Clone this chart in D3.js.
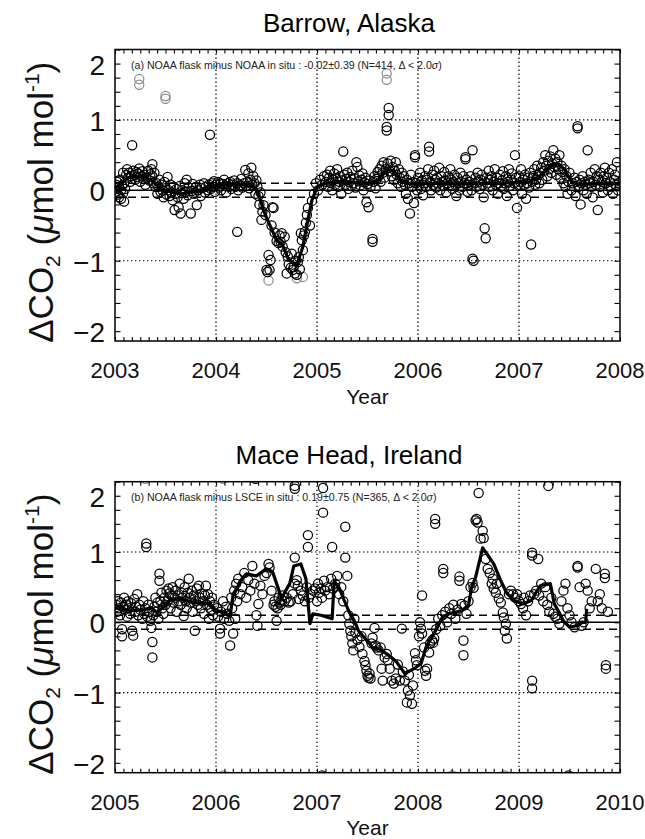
<!DOCTYPE html>
<html>
<head>
<meta charset="utf-8">
<script src="https://cdn.jsdelivr.net/npm/d3@7"></script>
<style>
  body { margin: 0; background: #fff; }
  svg { display: block; }
  text { font-family: "Liberation Sans", Arial, Helvetica, sans-serif; }
</style>
</head>
<body>
<svg id="chart" width="645" height="839"></svg>
<script>
// ---- Data -------------------------------------------------------------
const yTicks = [-2, -1, 0, 1, 2];
const barrowYears = [2003, 2004, 2005, 2006, 2007, 2008];
const maceYears = [2005, 2006, 2007, 2008, 2009, 2010];

const barrowTitle = "Barrow, Alaska";
const maceTitle = "Mace Head, Ireland";
const barrowNote = ["(a) NOAA flask minus NOAA in situ : -0.02\u00b10.39 (N=414, \u0394 < 2.0", "\u03c3", ")"];
const maceNote = ["(b) NOAA flask minus LSCE in situ : 0.19\u00b10.75 (N=365, \u0394 < 2.0", "\u03c3", ")"];

// flask minus in situ differences [decimal year, ppm], accepted samples
const barrowFlask = [
  [2003.01,0.08],[2003.01,-0.02],[2003.02,0.12],[2003.02,0.03],[2003.03,-0.06],[2003.04,0.05],[2003.04,-0.1],[2003.05,0.15],[2003.06,0.0],[2003.06,-0.12],[2003.07,0.07],[2003.08,-0.04],[2003.08,0.25],[2003.09,0.1],[2003.09,-0.16],[2003.10,0.02],
  [2003.11,0.22],[2003.12,0.3],[2003.13,0.18],[2003.14,0.25],[2003.15,0.12],[2003.16,0.2],[2003.17,0.64],[2003.18,0.28],[2003.19,0.22],[2003.20,0.15],[2003.21,0.26],[2003.22,0.19],[2003.23,0.24],[2003.24,0.31],[2003.25,0.12],[2003.26,0.2],[2003.27,0.27],[2003.28,0.16],[2003.29,0.22],[2003.30,0.08],[2003.31,0.18],[2003.33,0.28],[2003.34,0.14],[2003.35,0.23],[2003.36,0.3],[2003.37,0.37],[2003.37,0.2],[2003.38,0.1],[2003.39,0.25],[2003.40,0.05],
  [2003.41,0.1],[2003.42,-0.05],[2003.43,0.05],[2003.44,0.15],[2003.45,-0.02],[2003.46,0.08],[2003.47,0.0],[2003.48,-0.1],[2003.49,0.12],[2003.50,0.03],[2003.51,-0.06],[2003.52,0.19],[2003.53,0.0],[2003.54,-0.08],[2003.55,0.08],[2003.56,-0.03],[2003.57,-0.14],[2003.58,0.05],[2003.59,-0.28],[2003.60,-0.05],[2003.61,0.02],[2003.62,-0.1],[2003.63,-0.24],[2003.64,0.06],[2003.65,-0.33],[2003.66,-0.04],[2003.67,0.0],[2003.68,-0.12],[2003.69,0.1],[2003.70,-0.02],[2003.71,0.15],[2003.72,-0.07],[2003.73,0.04],[2003.75,-0.33],[2003.76,-0.01],[2003.77,0.09],[2003.78,-0.05],[2003.80,0.05],[2003.81,-0.21],[2003.82,0.0],[2003.84,0.08],[2003.85,-0.08],[2003.86,0.03],[2003.88,0.1],[2003.89,-0.03],[2003.90,0.05],[2003.92,0.0],
  [2003.93,0.08],[2003.94,0.79],[2003.95,0.02],[2003.96,0.1],[2003.97,0.05],[2003.98,0.13],[2003.99,-0.02],[2004.00,0.08],[2004.02,0.12],[2004.03,0.04],[2004.04,0.1],[2004.05,0.0],[2004.07,0.09],[2004.08,0.15],[2004.09,0.06],[2004.10,-0.03],[2004.12,0.1],[2004.13,0.05],[2004.14,0.12],[2004.15,0.02],[2004.17,0.08],[2004.18,0.14],[2004.19,0.05],[2004.21,-0.59],[2004.21,0.1],[2004.22,0.0],[2004.24,0.07],[2004.25,0.16],[2004.26,0.04],[2004.28,0.1],[2004.29,0.29],[2004.30,0.06],[2004.31,0.12],[2004.32,0.24],[2004.33,0.03],[2004.34,0.15],[2004.35,0.32],[2004.36,0.08],[2004.37,0.2],[2004.38,0.1],[2004.39,-0.05],[2004.40,0.14],
  [2004.41,0.05],[2004.42,-0.08],[2004.43,-0.2],[2004.44,-0.03],[2004.45,-0.42],[2004.46,-0.3],[2004.47,-0.21],[2004.49,-0.35],[2004.50,-1.13],[2004.51,-1.16],[2004.52,-0.92],[2004.53,-1.13],[2004.54,-0.99],[2004.55,-0.5],[2004.56,-0.24],[2004.57,-0.25],[2004.58,-0.6],[2004.60,-0.72],[2004.62,-0.75],[2004.63,-0.64],[2004.64,-0.73],[2004.65,-0.61],[2004.66,-0.8],[2004.68,-0.66],[2004.69,-0.88],[2004.70,-1.18],[2004.71,-0.94],[2004.72,-1.05],[2004.74,-1.1],[2004.75,-0.9],[2004.76,-1.13],[2004.77,-1.09],[2004.78,-1.18],[2004.79,-1.0],[2004.80,-1.2],[2004.81,-1.02],[2004.82,-0.95],[2004.83,-1.12],[2004.84,-0.61],[2004.85,-0.71],[2004.86,-0.85],[2004.87,-0.64],[2004.88,-0.59],[2004.89,-0.46],[2004.90,-0.35],[2004.91,-0.25],[2004.93,-0.5],[2004.95,-0.15],[2004.97,-0.05],[2004.99,0.1],[2005.01,0.0],[2005.03,0.15],[2005.05,0.08],[2005.07,0.2],
  [2005.09,0.12],[2005.10,0.22],[2005.11,0.05],[2005.12,0.18],[2005.13,0.28],[2005.14,0.1],[2005.15,0.0],[2005.16,0.15],[2005.17,0.24],[2005.18,0.08],[2005.19,0.17],[2005.20,0.3],[2005.21,0.05],[2005.22,0.12],[2005.23,0.2],[2005.24,-0.05],[2005.25,0.14],[2005.26,0.55],[2005.27,0.22],[2005.28,0.08],[2005.29,0.16],[2005.30,0.25],[2005.31,0.02],[2005.32,0.12],[2005.33,0.19],[2005.34,0.06],[2005.35,0.28],[2005.36,0.1],[2005.37,0.17],[2005.38,0.04],[2005.39,0.4],[2005.40,0.33],[2005.41,0.13],[2005.42,0.21],[2005.43,0.07],[2005.44,0.15],[2005.45,0.24],[2005.46,0.0],[2005.47,0.11],[2005.48,0.18],[2005.49,-0.17],[2005.50,0.09],[2005.51,-0.24],[2005.52,0.14],[2005.53,0.05],[2005.55,-0.69],[2005.55,-0.73],[2005.56,0.12],[2005.57,0.2],[2005.58,0.03],[2005.59,0.16],[2005.60,0.26],
  [2005.61,0.2],[2005.62,0.3],[2005.63,0.12],[2005.64,0.35],[2005.65,0.25],[2005.66,0.4],[2005.67,0.18],[2005.68,0.3],[2005.69,0.9],[2005.69,0.85],[2005.70,0.38],[2005.71,1.17],[2005.71,1.07],[2005.72,0.27],[2005.73,0.42],[2005.74,0.2],[2005.75,0.33],[2005.76,0.15],[2005.77,0.28],[2005.78,0.4],[2005.79,0.22],[2005.80,0.1],[2005.81,0.3],[2005.82,0.18],[2005.83,0.05],[2005.84,0.25],[2005.85,0.12],
  [2005.86,0.2],[2005.87,0.08],[2005.88,-0.05],[2005.89,0.15],[2005.90,-0.12],[2005.91,0.1],[2005.92,-0.33],[2005.93,0.22],[2005.94,0.05],[2005.95,0.12],[2005.96,-0.18],[2005.97,0.5],[2005.97,0.47],[2005.98,0.1],[2005.99,0.0],[2006.00,0.18],[2006.01,0.08],[2006.02,0.25],[2006.03,0.02],[2006.04,0.14],[2006.05,-0.07],[2006.06,0.1],[2006.07,0.2],[2006.08,0.05],[2006.09,0.15],[2006.10,0.3],[2006.11,0.62],[2006.11,0.55],[2006.12,0.12],[2006.13,0.0],[2006.14,0.22],[2006.15,0.08],[2006.16,0.28],[2006.17,0.15],[2006.18,0.04],[2006.19,0.18],[2006.20,0.1],[2006.21,0.32],[2006.22,0.0],[2006.23,0.2],[2006.24,0.12],[2006.25,0.06],[2006.26,0.26],[2006.27,0.14],[2006.28,-0.03],[2006.29,0.1],[2006.30,0.2],[2006.31,0.07],[2006.32,0.3],[2006.33,0.15],[2006.34,0.02],[2006.35,0.12],[2006.36,0.22],[2006.37,0.08],[2006.38,-0.08],[2006.39,0.18],[2006.40,0.1],[2006.41,0.0],[2006.42,0.25],[2006.43,0.12],[2006.44,0.05],[2006.45,0.2],[2006.46,0.1],[2006.47,0.47],[2006.47,0.44],[2006.48,0.15],[2006.49,-0.02],[2006.50,0.08],
  [2006.51,0.12],[2006.52,0.2],[2006.53,0.0],[2006.54,0.57],[2006.54,-0.97],[2006.55,-1.0],[2006.56,0.1],[2006.57,0.18],[2006.58,0.05],[2006.59,0.25],[2006.60,0.12],[2006.61,0.02],[2006.62,0.15],[2006.63,0.22],[2006.64,0.08],[2006.65,-0.1],[2006.66,-0.54],[2006.67,-0.68],[2006.68,0.18],[2006.69,0.1],[2006.70,0.28],[2006.71,0.05],[2006.72,0.15],[2006.73,0.2],[2006.74,0.0],[2006.75,0.12],[2006.76,0.3],[2006.77,0.08],[2006.78,0.18],[2006.79,-0.05],[2006.80,0.1],[2006.81,0.22],[2006.82,0.05],[2006.83,0.14],[2006.84,0.27],[2006.85,0.02],[2006.86,0.1],[2006.87,0.2],[2006.88,-0.08],[2006.89,0.12],[2006.90,0.3],[2006.91,0.06],[2006.92,0.15],[2006.93,0.24],[2006.94,0.0],[2006.95,0.1],[2006.96,0.5],[2006.97,0.18],[2006.98,-0.25],[2006.99,0.08],[2007.00,0.2],[2007.01,0.12],[2007.02,0.3],[2007.03,-0.05],[2007.04,0.15],[2007.05,0.08],[2007.06,0.22],[2007.07,-0.12],[2007.08,0.1],[2007.09,0.18],[2007.10,0.04],[2007.11,0.25],[2007.12,-0.77],[2007.13,0.12],[2007.14,0.2],[2007.15,0.3],[2007.16,0.08],[2007.17,0.15],[2007.18,0.35],[2007.19,0.22],[2007.20,0.1],
  [2007.21,0.25],[2007.22,0.32],[2007.23,0.15],[2007.24,0.4],[2007.25,0.28],[2007.26,0.5],[2007.27,0.35],[2007.28,0.2],[2007.29,0.42],[2007.30,0.3],[2007.31,0.48],[2007.32,0.25],[2007.33,0.38],[2007.34,0.57],[2007.35,0.33],[2007.36,0.45],[2007.37,0.22],[2007.38,0.4],[2007.39,0.3],[2007.40,0.5],[2007.41,0.18],[2007.42,0.35],[2007.43,0.26],[2007.44,0.1],[2007.45,0.3],[2007.46,0.05],[2007.47,0.2],[2007.48,-0.05],[2007.49,0.12],[2007.50,0.25],[2007.52,0.0],[2007.53,0.1],
  [2007.55,0.18],[2007.56,-0.08],[2007.57,0.12],[2007.58,0.91],[2007.58,0.88],[2007.59,0.05],[2007.60,0.15],[2007.61,-0.2],[2007.62,0.1],[2007.63,0.2],[2007.64,0.0],[2007.65,0.12],[2007.66,0.08],[2007.67,-0.05],[2007.68,0.57],[2007.69,0.15],[2007.70,0.1],[2007.71,0.25],[2007.72,0.05],[2007.73,-0.1],[2007.74,0.12],[2007.75,0.3],[2007.76,0.08],[2007.77,0.2],[2007.78,-0.28],[2007.79,0.15],[2007.80,0.05],[2007.81,0.25],[2007.82,0.12],[2007.83,-0.03],[2007.84,0.2],[2007.85,0.32],[2007.86,0.1],[2007.87,0.18],[2007.88,0.0],[2007.89,0.25],[2007.90,0.12],[2007.91,0.05],[2007.92,0.3],[2007.93,-0.05],[2007.94,0.15],[2007.95,0.22],[2007.96,0.08],[2007.97,0.4],[2007.98,0.0],[2007.99,0.1]
];
// samples outside the 2-sigma acceptance window
const barrowRejected = [
  [2003.24,1.58],[2003.24,1.50],[2003.50,1.34],[2003.50,1.30],[2005.69,1.66],[2005.69,1.57],[2004.52,-1.28],[2004.80,-1.25],[2004.86,-1.23]
];
// running mean of the accepted differences
const barrowMean = [
  [2003.0,0.05],[2003.05,0.06],[2003.1,0.15],[2003.15,0.19],[2003.3,0.19],[2003.38,0.12],[2003.45,0.02],[2003.55,-0.02],[2003.65,-0.05],[2003.75,-0.03],[2003.85,0.0],[2003.95,0.05],[2004.1,0.08],[2004.25,0.08],[2004.38,0.05],[2004.42,-0.05],[2004.47,-0.28],[2004.52,-0.45],[2004.6,-0.71],[2004.66,-0.78],[2004.72,-0.99],[2004.8,-1.06],[2004.86,-0.8],[2004.91,-0.42],[2004.95,-0.14],[2005.0,0.04],[2005.08,0.1],[2005.3,0.12],[2005.5,0.1],[2005.6,0.13],[2005.65,0.22],[2005.7,0.29],[2005.76,0.28],[2005.82,0.15],[2005.9,0.1],[2006.2,0.1],[2006.5,0.1],[2006.8,0.1],[2007.1,0.12],[2007.2,0.2],[2007.3,0.33],[2007.38,0.39],[2007.45,0.3],[2007.52,0.12],[2007.6,0.08],[2007.8,0.1],[2008.0,0.1]
];

const maceFlask = [
  [2005.01,0.25],[2005.02,0.15],[2005.03,0.3],[2005.04,0.2],[2005.05,0.1],[2005.06,0.28],[2005.07,-0.1],[2005.07,-0.2],[2005.08,0.22],[2005.09,0.35],[2005.10,0.18],[2005.11,0.25],[2005.12,0.08],[2005.13,0.3],[2005.14,0.2],[2005.15,0.12],[2005.16,0.27],[2005.17,-0.12],[2005.18,-0.19],[2005.19,0.33],[2005.20,0.15],[2005.21,0.22],[2005.22,0.4],[2005.23,0.1],[2005.24,0.25],[2005.25,0.18],[2005.27,0.05],[2005.28,0.3],[2005.29,0.12],[2005.30,0.2],[2005.31,1.12],[2005.31,1.07],[2005.32,0.08],[2005.33,0.25],[2005.34,0.15],[2005.35,0.02],[2005.36,-0.08],[2005.37,-0.28],[2005.37,-0.5],[2005.38,0.1],[2005.39,0.22],[2005.40,0.35],[2005.41,0.15],[2005.42,0.28],[2005.43,0.05],[2005.44,0.69],[2005.44,0.59],[2005.45,0.3],[2005.46,0.42],[2005.47,0.2],[2005.48,0.12],[2005.49,0.35],[2005.50,0.25],
  [2005.51,0.45],[2005.52,0.3],[2005.53,0.48],[2005.54,0.41],[2005.55,0.2],[2005.56,0.38],[2005.57,0.5],[2005.58,0.28],[2005.59,0.35],[2005.60,0.45],[2005.61,0.15],[2005.62,0.38],[2005.63,0.3],[2005.64,0.55],[2005.65,0.25],[2005.66,0.42],[2005.67,0.35],[2005.68,0.09],[2005.69,0.5],[2005.70,0.3],[2005.71,0.2],[2005.72,0.42],[2005.73,0.62],[2005.74,0.35],[2005.75,0.28],[2005.76,0.45],[2005.77,0.15],[2005.78,0.38],[2005.79,-0.12],[2005.80,0.3],[2005.81,0.48],[2005.82,0.25],[2005.83,0.52],[2005.84,0.35],[2005.85,0.2],[2005.86,0.41],[2005.87,0.3],[2005.88,0.12],[2005.89,0.38],[2005.90,0.52],[2005.91,0.25],[2005.92,0.4],[2005.93,0.05],[2005.94,0.3],[2005.95,0.18],[2005.96,0.35],[2005.97,0.1],[2005.98,0.25],
  [2006.01,0.2],[2006.02,0.08],[2006.04,-0.09],[2006.04,-0.16],[2006.05,0.15],[2006.07,0.3],[2006.08,0.05],[2006.10,0.22],[2006.11,0.12],[2006.13,0.02],[2006.14,-0.33],[2006.15,0.35],[2006.16,0.2],[2006.17,-0.16],[2006.18,0.45],[2006.19,0.05],[2006.20,0.55],[2006.21,0.3],[2006.22,0.62],[2006.24,0.4],
  [2006.26,0.5],[2006.28,0.7],[2006.30,0.35],[2006.32,0.6],[2006.34,0.45],[2006.36,0.8],[2006.38,0.55],[2006.40,0.1],[2006.41,-0.05],[2006.42,0.26],[2006.44,0.52],[2006.46,0.4],[2006.48,0.66],[2006.50,0.7],[2006.52,0.83],[2006.53,0.78],[2006.55,0.45],[2006.57,0.25],[2006.58,0.3],[2006.59,0.22],[2006.60,0.02],[2006.61,0.2],[2006.62,0.35],[2006.63,0.28],[2006.64,0.25],[2006.65,0.32],[2006.66,0.38],[2006.68,0.3],[2006.70,0.35],[2006.72,0.28],[2006.74,0.3],[2006.76,0.4],[2006.78,0.92],[2006.78,0.55],[2006.78,1.94],[2006.78,1.9],[2006.80,0.6],[2006.81,0.52],[2006.82,0.33],[2006.84,0.45],[2006.86,0.38],[2006.88,0.3],[2006.90,0.5],[2006.91,1.24],[2006.91,1.07],[2006.92,0.35],[2006.94,0.4],
  [2006.96,0.45],[2006.98,0.48],[2007.00,0.3],[2007.01,0.55],[2007.02,0.42],[2007.04,0.48],[2007.05,0.35],[2007.06,1.91],[2007.06,1.56],[2007.07,0.59],[2007.08,0.45],[2007.10,0.5],[2007.12,0.4],[2007.14,0.62],[2007.15,1.07],[2007.16,0.48],[2007.18,0.55],[2007.20,0.66],[2007.22,0.4],[2007.24,0.5],[2007.26,0.3],[2007.28,0.92],[2007.28,1.36],[2007.30,0.66],
  [2007.31,0.1],[2007.32,-0.02],[2007.33,-0.12],[2007.34,-0.2],[2007.35,-0.3],[2007.36,-0.4],[2007.37,0.05],[2007.38,-0.15],[2007.40,-0.25],[2007.42,-0.35],[2007.44,-0.2],[2007.45,-0.45],[2007.47,-0.55],[2007.48,-0.61],[2007.49,-0.69],[2007.50,-0.76],[2007.51,-0.79],[2007.52,-0.73],[2007.53,-0.8],[2007.54,-0.3],[2007.55,-0.22],[2007.57,-0.08],[2007.58,-0.33],[2007.59,-0.36],[2007.61,-0.4],[2007.63,-0.36],[2007.64,-0.66],[2007.65,-0.83],[2007.67,-0.5],[2007.69,-0.45],[2007.70,-0.54],[2007.72,-0.66],[2007.74,-0.83],[2007.76,-0.87],[2007.78,-0.8],[2007.80,-0.6],[2007.82,-0.83],[2007.84,-0.09],[2007.85,-0.7],[2007.87,-0.83],[2007.89,-1.14],[2007.90,-0.97],[2007.91,-0.75],[2007.92,-1.04],[2007.94,-1.16],[2007.95,-0.9],[2007.97,-0.44],[2007.98,-0.54],[2007.99,-0.61],
  [2008.01,-0.2],[2008.02,0.0],[2008.03,-0.09],[2008.04,0.38],[2008.04,-0.16],[2008.06,-0.36],[2008.07,-0.69],[2008.08,-0.76],[2008.09,-0.66],[2008.11,-0.43],[2008.12,-0.3],[2008.14,-0.26],[2008.15,-0.29],[2008.16,-0.23],[2008.17,1.47],[2008.17,1.4],[2008.18,-0.1],[2008.20,0.05],[2008.22,-0.05],[2008.24,0.1],[2008.25,0.76],[2008.25,0.7],[2008.27,0.15],[2008.29,0.0],[2008.31,0.2],[2008.33,0.12],[2008.35,0.25],[2008.37,0.05],[2008.39,0.18],[2008.41,0.65],[2008.41,0.59],[2008.43,0.26],[2008.45,-0.26],[2008.45,-0.47],[2008.46,0.24],[2008.48,0.12],[2008.50,0.3],
  [2008.52,0.5],[2008.54,0.56],[2008.55,0.49],[2008.57,1.45],[2008.58,1.47],[2008.59,1.42],[2008.60,1.84],[2008.62,1.19],[2008.64,1.3],[2008.65,1.2],[2008.67,0.9],[2008.69,0.76],[2008.71,0.7],[2008.73,0.55],[2008.74,0.62],[2008.75,0.48],[2008.77,0.42],[2008.78,0.55],[2008.80,0.34],[2008.82,0.28],[2008.84,0.14],[2008.85,0.07],[2008.86,-0.12],[2008.87,-0.02],[2008.88,-0.23],[2008.90,0.4],[2008.92,0.45],[2008.94,0.4],[2008.96,0.35],[2008.98,0.4],
  [2009.00,0.3],[2009.02,0.26],[2009.04,0.2],[2009.05,0.35],[2009.07,0.1],[2009.09,0.3],[2009.11,0.38],[2009.13,0.99],[2009.13,0.95],[2009.13,-0.83],[2009.13,-0.94],[2009.15,0.4],[2009.17,0.45],[2009.19,0.9],[2009.20,0.38],[2009.22,0.55],[2009.24,0.3],[2009.26,0.5],[2009.28,0.25],[2009.29,1.94],[2009.30,0.15],[2009.32,0.35],[2009.34,0.12],[2009.36,0.08],[2009.38,0.05],[2009.40,-0.02],[2009.42,0.3],[2009.44,0.45],[2009.46,0.55],[2009.48,0.2],[2009.50,0.1],[2009.52,0.0],[2009.55,-0.07],[2009.58,0.8],[2009.58,0.78],[2009.60,0.5],[2009.62,-0.05],[2009.64,0.0],[2009.66,0.55],[2009.68,0.45],[2009.70,0.2],[2009.72,0.3],[2009.76,0.76],[2009.78,0.3],[2009.80,0.4],[2009.82,0.2],[2009.85,0.69],[2009.85,0.63],[2009.86,-0.61],[2009.86,-0.66],[2009.88,0.15],
  [2006.39,2.04],[2007.05,-2.18],[2009.49,-2.18]
];
const maceRejected = [
  [2005.30,2.04],[2006.07,2.04],[2006.07,-2.18],[2008.34,-2.18],[2008.86,-2.18]
];
const maceMean = [
  [2005.0,0.21],[2005.15,0.17],[2005.27,0.17],[2005.36,0.21],[2005.41,0.14],[2005.5,0.24],[2005.54,0.31],[2005.64,0.34],[2005.77,0.28],[2005.94,0.27],[2005.99,0.17],[2006.09,0.14],[2006.14,0.09],[2006.17,0.4],[2006.21,0.49],[2006.24,0.59],[2006.3,0.69],[2006.4,0.66],[2006.5,0.76],[2006.56,0.72],[2006.6,0.55],[2006.65,0.34],[2006.69,0.45],[2006.73,0.55],[2006.77,0.8],[2006.84,0.83],[2006.89,0.62],[2006.93,-0.02],[2006.96,0.12],[2007.04,0.1],[2007.15,0.05],[2007.17,0.59],[2007.22,0.49],[2007.27,0.31],[2007.32,0.14],[2007.37,0.02],[2007.41,-0.12],[2007.47,-0.22],[2007.55,-0.36],[2007.62,-0.38],[2007.7,-0.46],[2007.78,-0.55],[2007.87,-0.73],[2007.96,-0.66],[2008.03,-0.59],[2008.08,-0.35],[2008.13,-0.23],[2008.19,-0.08],[2008.24,0.07],[2008.3,0.12],[2008.36,0.14],[2008.44,0.17],[2008.5,0.24],[2008.53,0.49],[2008.57,0.64],[2008.64,1.06],[2008.75,0.83],[2008.82,0.59],[2008.88,0.41],[2008.95,0.31],[2009.04,0.26],[2009.12,0.31],[2009.21,0.52],[2009.31,0.55],[2009.35,0.26],[2009.39,0.16],[2009.44,0.02],[2009.5,-0.07],[2009.57,-0.05],[2009.63,0.0],[2009.66,0.0],[2009.67,0.19]
];

// ---- Drawing ----------------------------------------------------------
const svg = d3.select("#chart");
const plotLeft = 115, plotRight = 620;
const yDomain = [-2.14, 2.0];

function drawPanel(cfg, idx) {
  const x = d3.scaleLinear().domain([cfg.years[0], cfg.years[cfg.years.length - 1]]).range([plotLeft, plotRight]);
  const y = d3.scaleLinear().domain(yDomain).range([cfg.bottom, cfg.top]);
  const g = svg.append("g");

  const clipId = "clip" + idx;
  svg.append("clipPath").attr("id", clipId)
    .append("rect").attr("x", plotLeft).attr("y", cfg.top)
    .attr("width", plotRight - plotLeft).attr("height", cfg.bottom - cfg.top);

  // dotted grid at whole years and whole ppm
  const grid = g.append("g").attr("stroke", "#000").attr("stroke-width", 1.2).attr("stroke-dasharray", "1.4,2.6");
  grid.selectAll("line.gx").data(cfg.years.slice(1, -1)).join("line")
    .attr("x1", d => x(d)).attr("x2", d => x(d)).attr("y1", cfg.top).attr("y2", cfg.bottom);
  grid.selectAll("line.gy").data(yTicks.filter(v => v !== 0 && Math.abs(v) < 2)).join("line")
    .attr("x1", plotLeft).attr("x2", plotRight).attr("y1", d => y(d)).attr("y2", d => y(d));

  // zero line and +/-0.1 ppm band
  g.append("line").attr("x1", plotLeft).attr("x2", plotRight).attr("y1", y(0)).attr("y2", y(0))
    .attr("stroke", "#000").attr("stroke-width", 1.5);
  g.selectAll("line.band").data([0.1, -0.1]).join("line")
    .attr("x1", plotLeft).attr("x2", plotRight).attr("y1", d => y(d)).attr("y2", d => y(d))
    .attr("stroke", "#000").attr("stroke-width", 1.5).attr("stroke-dasharray", "8,5");

  const marks = g.append("g").attr("clip-path", `url(#${clipId})`);
  marks.selectAll("circle.rej").data(cfg.rejected).join("circle")
    .attr("cx", d => x(d[0])).attr("cy", d => y(d[1])).attr("r", 4.6)
    .attr("fill", "none").attr("stroke", "#8a8a8a").attr("stroke-width", 1.2);
  marks.selectAll("circle.acc").data(cfg.flask).join("circle")
    .attr("cx", d => x(d[0])).attr("cy", d => y(d[1])).attr("r", 4.6)
    .attr("fill", "none").attr("stroke", "#000").attr("stroke-width", 1.25);
  marks.append("path").datum(cfg.mean)
    .attr("d", d3.line().x(d => x(d[0])).y(d => y(d[1])))
    .attr("fill", "none").attr("stroke", "#000").attr("stroke-width", 3.2).attr("stroke-linejoin", "round");

  // minor ticks: months on x, 0.2 ppm on y, drawn inward on all four sides
  const months = d3.range(cfg.years[0] * 12, cfg.years[cfg.years.length - 1] * 12 + 1).map(m => m / 12);
  const yMinor = d3.range(-21, 21).map(k => k / 10).filter(v => Math.round(v * 10) % 2 === 0 && v >= yDomain[0] && v <= yDomain[1]);
  const tickStyle = sel => { sel.select(".domain").remove(); sel.selectAll("line").attr("stroke", "#000").attr("stroke-width", 1.1); };
  g.append("g").attr("transform", `translate(0,${cfg.bottom})`)
    .call(d3.axisBottom(x).tickValues(months).tickSize(-4).tickFormat("")).call(tickStyle);
  g.append("g").attr("transform", `translate(0,${cfg.top})`)
    .call(d3.axisTop(x).tickValues(months).tickSize(-4).tickFormat("")).call(tickStyle);
  g.append("g").attr("transform", `translate(${plotLeft},0)`)
    .call(d3.axisLeft(y).tickValues(yMinor).tickSize(-5.5).tickFormat("")).call(tickStyle);
  g.append("g").attr("transform", `translate(${plotRight},0)`)
    .call(d3.axisRight(y).tickValues(yMinor).tickSize(-5.5).tickFormat("")).call(tickStyle);

  g.append("rect").attr("x", plotLeft).attr("y", cfg.top)
    .attr("width", plotRight - plotLeft).attr("height", cfg.bottom - cfg.top)
    .attr("fill", "none").attr("stroke", "#000").attr("stroke-width", 1.5);

  // tick labels
  g.selectAll("text.yl").data(yTicks).join("text")
    .attr("x", 105).attr("y", d => Math.max(y(d), cfg.top + 14) + 1)
    .attr("dy", "0.36em").attr("text-anchor", "end")
    .attr("font-size", 28).attr("fill", "#111").text(d => d3.format("d")(d));
  g.selectAll("text.xl").data(cfg.years).join("text")
    .attr("x", d => x(d)).attr("y", cfg.bottom + 37).attr("text-anchor", "middle")
    .attr("font-size", 22).attr("fill", "#111").text(d => d);
  g.append("text").attr("x", (plotLeft + plotRight) / 2).attr("y", cfg.bottom + 62.5)
    .attr("text-anchor", "middle").attr("font-size", 21).attr("fill", "#111").text("Year");

  // panel title
  g.append("text").attr("x", 349).attr("y", cfg.top - 17.5)
    .attr("text-anchor", "middle").attr("font-size", 26).attr("fill", "#000").text(cfg.title);

  // y-axis title
  const yt = g.append("text")
    .attr("transform", `translate(53,${(cfg.top + cfg.bottom) / 2 + 7}) rotate(-90)`)
    .attr("text-anchor", "middle").attr("font-size", 35).attr("fill", "#111");
  yt.append("tspan").text("\u0394CO");
  yt.append("tspan").attr("font-size", 21).attr("dy", 7).text("2");
  yt.append("tspan").attr("dy", -7).text(" (");
  yt.append("tspan").attr("font-style", "italic").text("\u03bc");
  yt.append("tspan").text("mol mol");
  yt.append("tspan").attr("font-size", 21).attr("dy", -14).text("-1");
  yt.append("tspan").attr("dy", 14).text(")");

  // statistics note
  const nt = g.append("text").attr("x", 131).attr("y", cfg.top + 19.5)
    .attr("font-size", 10.6).attr("fill", "#222");
  nt.append("tspan").text(cfg.note[0]);
  nt.append("tspan").attr("font-style", "italic").text(cfg.note[1]);
  nt.append("tspan").text(cfg.note[2]);
}

drawPanel({ years: barrowYears, flask: barrowFlask, rejected: barrowRejected, mean: barrowMean,
  title: barrowTitle, note: barrowNote, top: 49.5, bottom: 341 }, 0);
drawPanel({ years: maceYears, flask: maceFlask, rejected: maceRejected, mean: maceMean,
  title: maceTitle, note: maceNote, top: 481.7, bottom: 772.7 }, 1);
</script>
</body>
</html>
